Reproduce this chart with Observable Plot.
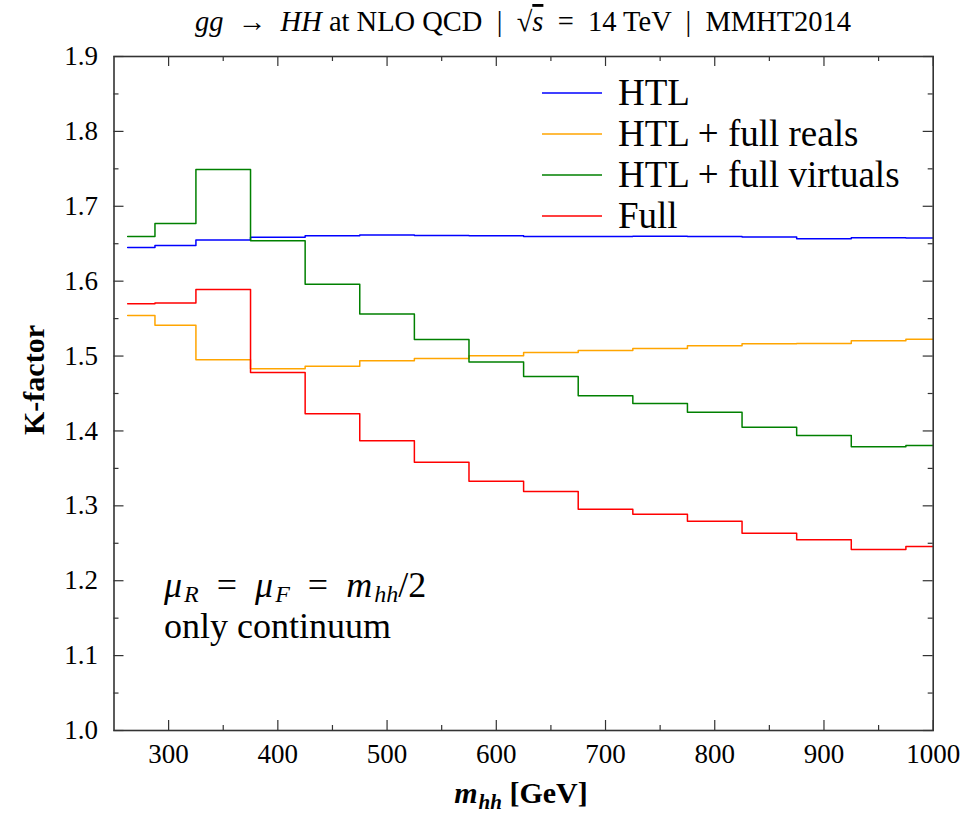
<!DOCTYPE html>
<html><head><meta charset="utf-8">
<script src="https://cdn.jsdelivr.net/npm/d3@7"></script>
<script src="https://cdn.jsdelivr.net/npm/@observablehq/plot@0.6"></script>
<style>
body{margin:0;background:#fff;}
#chart{width:979px;height:815px;}
text{white-space:pre;}
</style></head><body><div id="chart"></div>
<script>
// ---- data ----
const binEdges = [262.5, 287.5, 325, 375, 425, 475, 525, 575, 625, 675, 725, 775, 825, 875, 925, 975, 1000];
const htl = [1.645, 1.6475, 1.655, 1.6586, 1.6605, 1.6615, 1.661, 1.6605, 1.6595, 1.6595, 1.660, 1.6595, 1.659, 1.6565, 1.658, 1.6575];
const htlFullReals = [1.554, 1.541, 1.495, 1.483, 1.4864, 1.4936, 1.4967, 1.5003, 1.5047, 1.5073, 1.510, 1.5136, 1.5163, 1.5167, 1.5203, 1.5225];
const htlFullVirtuals = [1.6595, 1.677, 1.749, 1.654, 1.596, 1.556, 1.522, 1.492, 1.4726, 1.447, 1.4366, 1.425, 1.405, 1.394, 1.379, 1.3805];
const full = [1.5697, 1.571, 1.589, 1.478, 1.4228, 1.3868, 1.3583, 1.3329, 1.319, 1.2955, 1.2888, 1.2795, 1.2634, 1.2546, 1.2417, 1.2457];
const seriesNames = ["HTL", "HTL + full reals", "HTL + full virtuals", "Full"];
const seriesColors = ["#0000ff", "#ffa500", "#008000", "#ff0000"];
const xMajorTicks = [300, 400, 500, 600, 700, 800, 900, 1000];
const xMinorTicks = [350, 450, 550, 650, 750, 850, 950];
const yMajorTicks = [1.0, 1.1, 1.2, 1.3, 1.4, 1.5, 1.6, 1.7, 1.8, 1.9];
const yMinorTicks = [1.05, 1.15, 1.25, 1.35, 1.45, 1.55, 1.65, 1.75, 1.85];

// ---- build step rows ----
const seriesValues = [htl, htlFullReals, htlFullVirtuals, full];
const rows = [];
seriesNames.forEach((name, s) => {
  const vals = seriesValues[s];
  vals.forEach((v, i) => rows.push({series: name, x: binEdges[i], y: v}));
  rows.push({series: name, x: binEdges[binEdges.length - 1], y: vals[vals.length - 1]});
});

const W = 979, H = 815, mL = 113.5, mR = 46.3, mT = 56, mB = 85;
const fw = W - mL - mR, fh = H - mT - mB;
const axisColor = "#333";
const FONT = "'Liberation Serif', 'DejaVu Serif', serif";

const plot = Plot.plot({
  width: W, height: H,
  marginLeft: mL, marginRight: mR, marginTop: mT, marginBottom: mB,
  style: {fontFamily: FONT, fontSize: "27px", color: "#000", background: "#fff"},
  x: {domain: [250, 1000]},
  y: {domain: [1.0, 1.9]},
  color: {domain: seriesNames, range: seriesColors},
  marks: [
    Plot.line(rows, {x: "x", y: "y", z: "series", stroke: "series", strokeWidth: 1.5, curve: "step-after"}),
    // inward ticks on all four sides
    Plot.ruleX(xMajorTicks, {x: d => d, insetTop: fh - 10, stroke: axisColor, strokeWidth: 1.2}),
    Plot.ruleX(xMajorTicks, {x: d => d, insetBottom: fh - 10, stroke: axisColor, strokeWidth: 1.2}),
    Plot.ruleX(xMinorTicks, {x: d => d, insetTop: fh - 5, stroke: axisColor, strokeWidth: 1.2}),
    Plot.ruleX(xMinorTicks, {x: d => d, insetBottom: fh - 5, stroke: axisColor, strokeWidth: 1.2}),
    Plot.ruleY(yMajorTicks, {y: d => d, insetRight: fw - 10, stroke: axisColor, strokeWidth: 1.2}),
    Plot.ruleY(yMajorTicks, {y: d => d, insetLeft: fw - 10, stroke: axisColor, strokeWidth: 1.2}),
    Plot.ruleY(yMinorTicks, {y: d => d, insetRight: fw - 5, stroke: axisColor, strokeWidth: 1.2}),
    Plot.ruleY(yMinorTicks, {y: d => d, insetLeft: fw - 5, stroke: axisColor, strokeWidth: 1.2}),
    Plot.axisX(xMajorTicks, {tickSize: 0, tickPadding: 13, tickFormat: d => String(d), label: null, fontSize: 27}),
    Plot.axisY(yMajorTicks, {tickSize: 0, tickPadding: 16, tickFormat: d => d.toFixed(1), label: null, fontSize: 27}),
    Plot.frame({stroke: axisColor, strokeWidth: 1.6})
  ]
});
document.getElementById("chart").appendChild(plot);

// ---- decorations (title, axis labels, legend, annotation) ----
const svg = d3.select(plot);
const g = svg.append("g").attr("font-family", FONT).attr("fill", "#000").attr("text-anchor", "start");

function richText(parent, x, y, size, parts, anchor = "start", weight = "normal") {
  const t = parent.append("text").attr("x", x).attr("y", y).attr("font-size", size)
    .attr("text-anchor", anchor).attr("font-weight", weight);
  parts.forEach(p => {
    const ts = t.append("tspan").text(p.t);
    if (p.i) ts.attr("font-style", "italic");
    if (p.s) ts.attr("font-size", p.s);
    if (p.dy) ts.attr("dy", p.dy);
    if (p.dx) ts.attr("dx", p.dx);
    if (p.o) ts.attr("text-decoration", "overline");
  });
  return t;
}

// title
richText(g, (mL + W - mR) / 2, 31, 28.5, [
  {t: "gg", i: 1}, {t: "  \u2192  "}, {t: "HH", i: 1}, {t: " at NLO QCD  |  \u221A"},
  {t: "s", i: 1, o: 1}, {t: "  =  14 TeV  |  MMHT2014"}
], "middle");

// y label
g.append("text").attr("transform", "translate(44,380) rotate(-90)")
  .attr("text-anchor", "middle").attr("font-size", 30).attr("font-weight", "bold").text("K-factor");

// x label
richText(g, 521, 803, 30, [
  {t: "m", i: 1}, {t: "hh", i: 1, s: 21, dy: 6, dx: 1}, {t: " [GeV]", dy: -6}
], "middle", "bold");

// legend
const legendY = [93, 134, 175, 216];
seriesNames.forEach((name, i) => {
  g.append("line").attr("x1", 542).attr("x2", 602).attr("y1", legendY[i]).attr("y2", legendY[i])
    .attr("stroke", seriesColors[i]).attr("stroke-width", 1.5);
  g.append("text").attr("x", 618).attr("y", legendY[i] + 12).attr("font-size", 37)
    .attr("text-anchor", "start").text(name);
});

// annotation
richText(g, 164, 597, 36, [
  {t: "\u03BC", i: 1}, {t: "R", i: 1, s: 24, dy: 5, dx: 2}, {t: "  =  ", dy: -5},
  {t: "\u03BC", i: 1}, {t: "F", i: 1, s: 24, dy: 5, dx: 2}, {t: "  =  ", dy: -5},
  {t: "m", i: 1}, {t: "hh", i: 1, s: 24, dy: 5, dx: 2}, {t: "/2", dy: -5}
]);
richText(g, 164, 638, 36, [{t: "only continuum"}]);
</script>
</body></html>
